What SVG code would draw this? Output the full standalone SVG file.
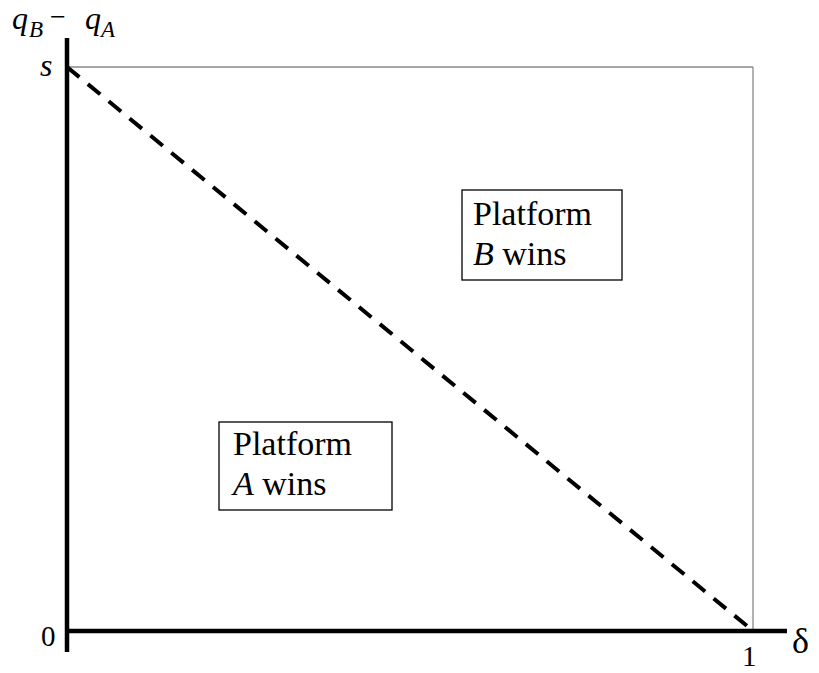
<svg xmlns="http://www.w3.org/2000/svg" width="819" height="673" viewBox="0 0 819 673">
<style>
text{font-family:"Liberation Serif","Times New Roman",serif;fill:#000}
.i{font-style:italic}
.box{fill:#fff;stroke:#000;stroke-width:1.3}
.lbl{font-size:34px}
.axis{stroke:#000;stroke-width:4.5}
.frame{stroke:#888;stroke-width:1.3}
</style>
<rect width="819" height="673" fill="#fff"/>
<g id="connectors">
<line class="frame" x1="67" y1="67" x2="753" y2="67"/>
<line class="frame" x1="753" y1="67" x2="753" y2="631"/>
<line x1="67" y1="67" x2="752" y2="630" stroke="#000" stroke-width="4" stroke-dasharray="16,11"/>
<line class="axis" x1="67" y1="38" x2="67" y2="652"/>
<line class="axis" x1="65" y1="631" x2="787" y2="631"/>
</g>
<g id="axis-labels">
<text class="i" x="12" y="29" font-size="32">q</text>
<text class="i" x="29" y="37" font-size="23">B</text>
<text x="50" y="26" font-size="28">−</text>
<text class="i" x="85" y="29" font-size="32">q</text>
<text class="i" x="101" y="37" font-size="23">A</text>
<text class="i" x="40" y="76" font-size="32">s</text>
<text x="41" y="646" font-size="29">0</text>
<text x="742" y="666" font-size="29">1</text>
<text x="792" y="653" font-size="36">δ</text>
</g>
<g id="node-b">
<rect class="box" x="462" y="190" width="160" height="90"/>
<text class="lbl" x="473" y="225">Platform</text>
<text class="lbl" x="473" y="265"><tspan class="i">B</tspan> wins</text>
</g>
<g id="node-a">
<rect class="box" x="219" y="422" width="173" height="88"/>
<text class="lbl" x="233" y="455">Platform</text>
<text class="lbl" x="233" y="495"><tspan class="i">A</tspan> wins</text>
</g>
</svg>
